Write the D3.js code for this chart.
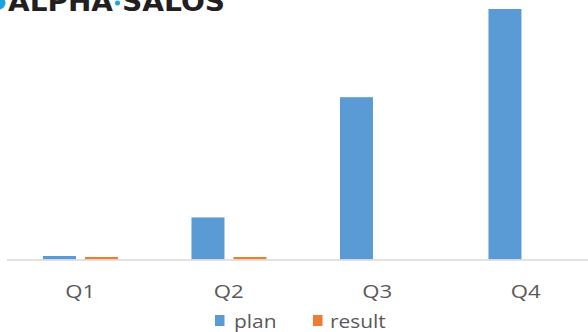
<!DOCTYPE html>
<html>
<head>
<meta charset="utf-8">
<script src="https://cdn.jsdelivr.net/npm/d3@7"></script>
<style>
  html, body { margin: 0; padding: 0; background: #fff; }
  svg { display: block; }
</style>
</head>
<body>
<svg id="chart" width="588" height="332"></svg>
<script>
const categories = ["Q1", "Q2", "Q3", "Q4"];
const seriesNames = ["plan", "result"];
const planValues = [21, 252, 972, 1500];
const resultValues = [15, 15, 0, 0];
const seriesColors = ["#5B9BD5", "#ED7D31"];

const svg = d3.select("#chart");
const fontFamily = "'Open Sans', 'Liberation Sans', sans-serif";

// Scales (plot area extends past the right edge, as in the cropped reference)
const x = d3.scaleBand().domain(categories).range([6, 600]).paddingInner(0).paddingOuter(0);
const bw = x.bandwidth();
const x1 = d3.scaleBand().domain(seriesNames)
  .range([bw * 0.249, bw * 0.754]).paddingInner(0.214).paddingOuter(0);
const y = d3.scaleLinear().domain([0, 1500]).range([259.5, 9]);
const color = d3.scaleOrdinal().domain(seriesNames).range(seriesColors);

const rows = categories.map((c, i) => ({ cat: c, values: [
  { key: "plan", value: planValues[i] },
  { key: "result", value: resultValues[i] }
]}));

// Logo (cropped at top, as in the reference)
const logo = svg.append("g").attr("class", "logo");
logo.append("circle").attr("cx", -1).attr("cy", 3).attr("r", 6.5).attr("fill", "#1fa3e0");
logo.append("text").attr("x", 8).attr("y", 10.5)
  .attr("font-family", "'DejaVu Sans', 'Liberation Sans', sans-serif")
  .attr("font-weight", "bold").attr("font-size", 27).attr("fill", "#231f20")
  .attr("textLength", 105).attr("lengthAdjust", "spacingAndGlyphs").text("ALPHA");
logo.append("circle").attr("cx", 117.5).attr("cy", 3).attr("r", 2.5).attr("fill", "#1fa3e0");
logo.append("text").attr("x", 122).attr("y", 10.5)
  .attr("font-family", "'DejaVu Sans', 'Liberation Sans', sans-serif")
  .attr("font-weight", "bold").attr("font-size", 27).attr("fill", "#231f20")
  .attr("textLength", 103).attr("lengthAdjust", "spacingAndGlyphs").text("SALOS");

// Bars
const groups = svg.append("g").selectAll("g").data(rows).join("g")
  .attr("transform", d => `translate(${x(d.cat)},0)`);
groups.selectAll("rect").data(d => d.values.filter(v => v.value > 0)).join("rect")
  .attr("x", d => x1(d.key))
  .attr("width", x1.bandwidth())
  .attr("y", d => y(d.value))
  .attr("height", d => y(0) - y(d.value))
  .attr("fill", d => color(d.key));

// Category axis
const axis = svg.append("g").attr("transform", `translate(0,${y(0) + 0.5})`)
  .call(d3.axisBottom(x).tickSize(0).tickPadding(0));
axis.select(".domain").attr("d", "M7,0H588").attr("stroke", "#d9d9d9").attr("stroke-width", 1.5);
axis.selectAll(".tick text")
  .attr("y", 0).attr("dy", 0)
  .attr("transform", "translate(0,38) scale(1.2,1)")
  .attr("font-family", fontFamily).attr("font-size", 18.5).attr("fill", "#595959");

// Legend
const legendItems = [
  { key: "plan", sx: 215, tx: 234 },
  { key: "result", sx: 313, tx: 330 }
];
const legend = svg.append("g");
legendItems.forEach(it => {
  legend.append("rect").attr("x", it.sx).attr("y", 315).attr("width", 9.5).attr("height", 11)
    .attr("fill", color(it.key));
  legend.append("text").attr("transform", `translate(${it.tx},327.5) scale(1.1,1)`)
    .attr("font-family", fontFamily).attr("font-size", 19).attr("fill", "#595959")
    .text(it.key);
});
</script>
</body>
</html>
